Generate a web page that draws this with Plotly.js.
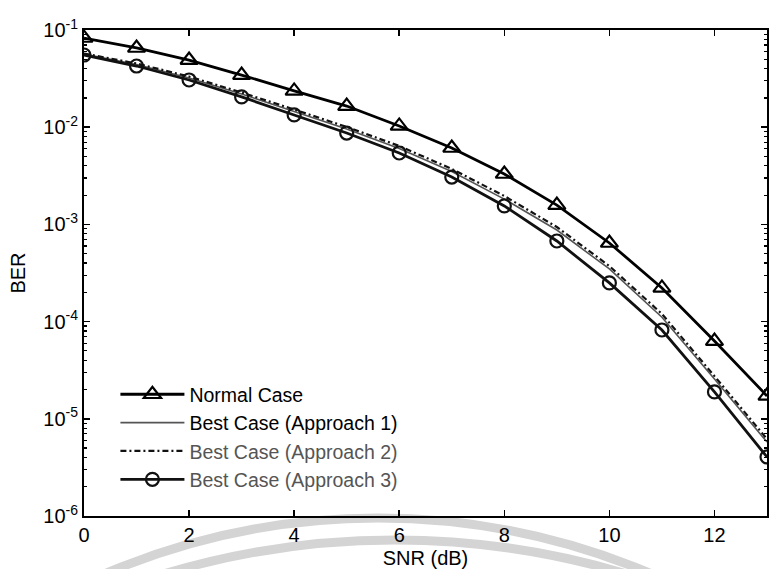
<!DOCTYPE html>
<html>
<head>
<meta charset="utf-8">
<script src="https://cdn.plot.ly/plotly-3.0.1.min.js"></script>
<style>
  html, body { margin: 0; padding: 0; background: #ffffff; }
  #chart { width: 771px; height: 569px; }
</style>
</head>
<body>
<div id="chart"></div>
<script>
// ---- data ----
const snr = [0, 1, 2, 3, 4, 5, 6, 7, 8, 9, 10, 11, 12, 13];

const normalCase = [0.0827, 0.0653, 0.0491, 0.0344, 0.0236, 0.0165, 0.0103,
                    0.00611, 0.0033, 0.00158, 6.44e-4, 2.22e-4, 6.3e-5, 1.72e-5];

const bestApproach1 = [0.0567, 0.0442, 0.0321, 0.0220, 0.0145, 0.00958, 0.00604,
                       0.0035, 0.00182, 8.75e-4, 3.48e-4, 1.11e-4, 2.57e-5, 5.77e-6];

const bestApproach2 = [0.0573, 0.0452, 0.0332, 0.02275, 0.0152, 0.01005, 0.00641,
                       0.00372, 0.00196, 9.4e-4, 3.73e-4, 1.20e-4, 2.75e-5, 6.2e-6];

const bestApproach3 = [0.0553, 0.0426, 0.0306, 0.0205, 0.01336, 0.00871, 0.00543,
                       0.00307, 0.00155, 6.75e-4, 2.5e-4, 8.2e-5, 1.89e-5, 4.05e-6];

const seriesNames = ['Normal Case', 'Best Case (Approach 1)',
                     'Best Case (Approach 2)', 'Best Case (Approach 3)'];

const xTickVals = [0, 2, 4, 6, 8, 10, 12];
const yTickVals = [1e-6, 1e-5, 1e-4, 1e-3, 1e-2, 1e-1];
const yTickText = ['10<sup>-6</sup>', '10<sup>-5</sup>', '10<sup>-4</sup>',
                   '10<sup>-3</sup>', '10<sup>-2</sup>', '10<sup>-1</sup>'];

// minor log ticks 2..9 in each decade
const yMinor = [];
for (let d = -6; d < -1; d++) {
  for (let m = 2; m <= 9; m++) yMinor.push(m * Math.pow(10, d));
}

const traces = [
  {
    x: snr, y: normalCase, name: seriesNames[0], legendgroup: 'a',
    type: 'scatter', mode: 'lines+markers',
    line: { color: '#000000', width: 2.8 },
    marker: { symbol: 'triangle-up-open', size: 15, color: '#000000', line: { width: 2.2, color: '#000000' } }
  },
  {
    x: snr, y: bestApproach1, name: seriesNames[1], legendgroup: 'b',
    type: 'scatter', mode: 'lines',
    line: { color: '#555555', width: 1.6 }
  },
  {
    x: snr, y: bestApproach2, name: '<span style="color:#555555">' + seriesNames[2] + '</span>', legendgroup: 'c',
    type: 'scatter', mode: 'lines',
    line: { color: '#111111', width: 2.2, dash: '6px,3px,2px,3px' }
  },
  {
    x: snr, y: bestApproach3, name: '<span style="color:#555555">' + seriesNames[3] + '</span>', legendgroup: 'd',
    type: 'scatter', mode: 'lines+markers',
    line: { color: '#111111', width: 2.8 },
    marker: { symbol: 'circle-open', size: 13, color: '#111111', line: { width: 2.2, color: '#111111' } }
  }
];

const axisFont = { family: 'Liberation Sans, Arial, sans-serif', size: 20, color: '#000000' };

const layout = {
  width: 771, height: 569,
  margin: { l: 84, r: 4, t: 30, b: 53 },
  paper_bgcolor: '#ffffff', plot_bgcolor: '#ffffff',
  font: axisFont,
  showlegend: true,
  legend: {
    x: 0.046, y: 0.29, xanchor: 'left', yanchor: 'top',
    bgcolor: 'rgba(0,0,0,0)', borderwidth: 0,
    font: { family: 'Liberation Sans, Arial, sans-serif', size: 19.5, color: '#000000' },
    tracegroupgap: 0, itemwidth: 64
  },
  xaxis: {
    range: [0, 13], tickmode: 'array', tickvals: xTickVals,
    ticks: 'inside', ticklen: 6, tickwidth: 1.5, tickcolor: '#000',
    showline: true, linecolor: '#000', linewidth: 2, mirror: 'allticks',
    showgrid: false, zeroline: false,
    tickfont: axisFont,
    title: { text: 'SNR (dB)', font: axisFont, standoff: 7 }
  },
  yaxis: {
    type: 'log', range: [-6, -1], tickmode: 'array',
    tickvals: yTickVals, ticktext: yTickText,
    ticks: 'inside', ticklen: 6, tickwidth: 1.5, tickcolor: '#000',
    showline: true, linecolor: '#000', linewidth: 2, mirror: 'allticks',
    showgrid: false, zeroline: false,
    tickfont: axisFont,
    minor: { tickmode: 'array', tickvals: yMinor, ticks: 'inside', ticklen: 3, tickwidth: 1.2, tickcolor: '#000', showgrid: false },
    title: { text: 'BER', font: axisFont, standoff: 12 }
  },
  shapes: [
    { type: 'circle', xref: 'paper', yref: 'paper', layer: 'below',
      x0: (378 - 697 - 84) / 683, x1: (378 + 697 - 84) / 683,
      y0: (516 - (1215 + 697)) / 486, y1: (516 - (1215 - 697)) / 486,
      line: { color: '#d4d4d4', width: 9 } },
    { type: 'circle', xref: 'paper', yref: 'paper', layer: 'below',
      x0: (395 - 803 - 84) / 683, x1: (395 + 803 - 84) / 683,
      y0: (516 - (1343 + 803)) / 486, y1: (516 - (1343 - 803)) / 486,
      line: { color: '#d4d4d4', width: 9 } }
  ]
};

Plotly.newPlot('chart', traces, layout, { displayModeBar: false, staticPlot: true });
</script>
</body>
</html>
